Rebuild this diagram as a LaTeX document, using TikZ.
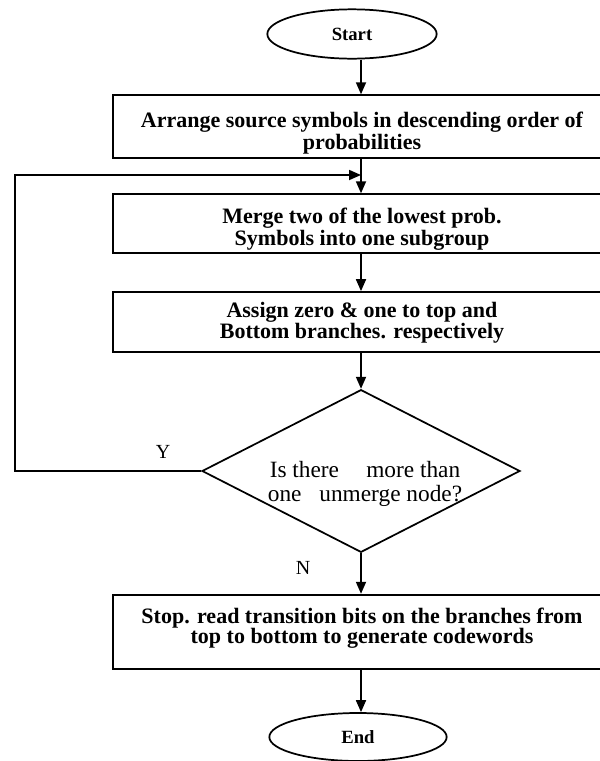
\documentclass[tikz,border=0pt]{standalone}
\usepackage{fontspec}
\setmainfont{Liberation Serif}
\usetikzlibrary{shapes.geometric,arrows.meta}

\tikzset{
  box/.style={draw, line width=1.3pt, minimum width=373pt, inner sep=0pt},
  boxtext/.style={align=center, font=\fontsize{16.5}{15}\selectfont\bfseries},
  term/.style={draw, ellipse, line width=1.3pt, inner sep=0pt,
    font=\fontsize{14}{16}\selectfont\bfseries},
  decision/.style={draw, diamond, line width=1.3pt, inner sep=0pt,
    minimum width=238.5pt, minimum height=122pt},
  dectext/.style={align=center, font=\fontsize{17.5}{18}\selectfont},
  lbl/.style={font=\fontsize{15}{16}\selectfont},
  arr/.style={line width=1.3pt, -{Triangle[length=9pt,width=7.5pt]}},
}

\begin{document}
\begin{tikzpicture}[x=0.75pt, y=-0.75pt]
\useasboundingbox (0,0) rectangle (600,761);
\coordinate (col) at (361,0);
\coordinate (lft) at (15,0);
\coordinate (join) at (361,175);

\node[term, minimum width=127pt, minimum height=37pt] (start) at (352,34) {Start};
\node[box, minimum height=47pt] (arrange) at (362,126.5) {};
\node[boxtext] (arrangetxt) at (362,133)
   {Arrange source symbols in descending order of\\probabilities};
\node[box, minimum height=44pt] (merge) at (362,223.5) {};
\node[boxtext] (mergetxt) at (362,229)
   {Merge two of the lowest prob.\\Symbols into one subgroup};
\node[box, minimum height=45pt] (assign) at (362,322) {};
\node[boxtext] (assigntxt) at (362,323)
   {Assign zero \& one to top and\\Bottom branches. respectively};
\node[decision] (dec) at (361,471) {};
\node[dectext] (dectxt) at (365,484)
   {Is there\hspace{16pt} more than\\one\hspace{9pt} unmerge node?};
\node[box, minimum height=56pt] (stop) at (362,632) {};
\node[boxtext] (stoptxt) at (362,628)
   {Stop. read transition bits on the branches from\\top to bottom to generate codewords};
\node[term, minimum width=133pt, minimum height=36pt] (end) at (358,737) {End};

\node[lbl] (yes) at (163,452) {Y};
\node[lbl] (no) at (303,568) {N};

% main flow
\draw[arr] (start.south -| col) -- (arrange.north -| col);
\draw[arr] (arrange.south -| col) -- (merge.north -| col);
\draw[arr] (merge.south -| col) -- (assign.north -| col);
\draw[arr] (assign.south -| col) -- (dec.north);
\draw[arr] (dec.south) -- (stop.north -| dec.south);
\draw[arr] (stop.south -| col) -- (end.north -| col);
% loop back
\draw[arr] (dec.west) -- (dec.west -| lft) |- (join);
\end{tikzpicture}
\end{document}
